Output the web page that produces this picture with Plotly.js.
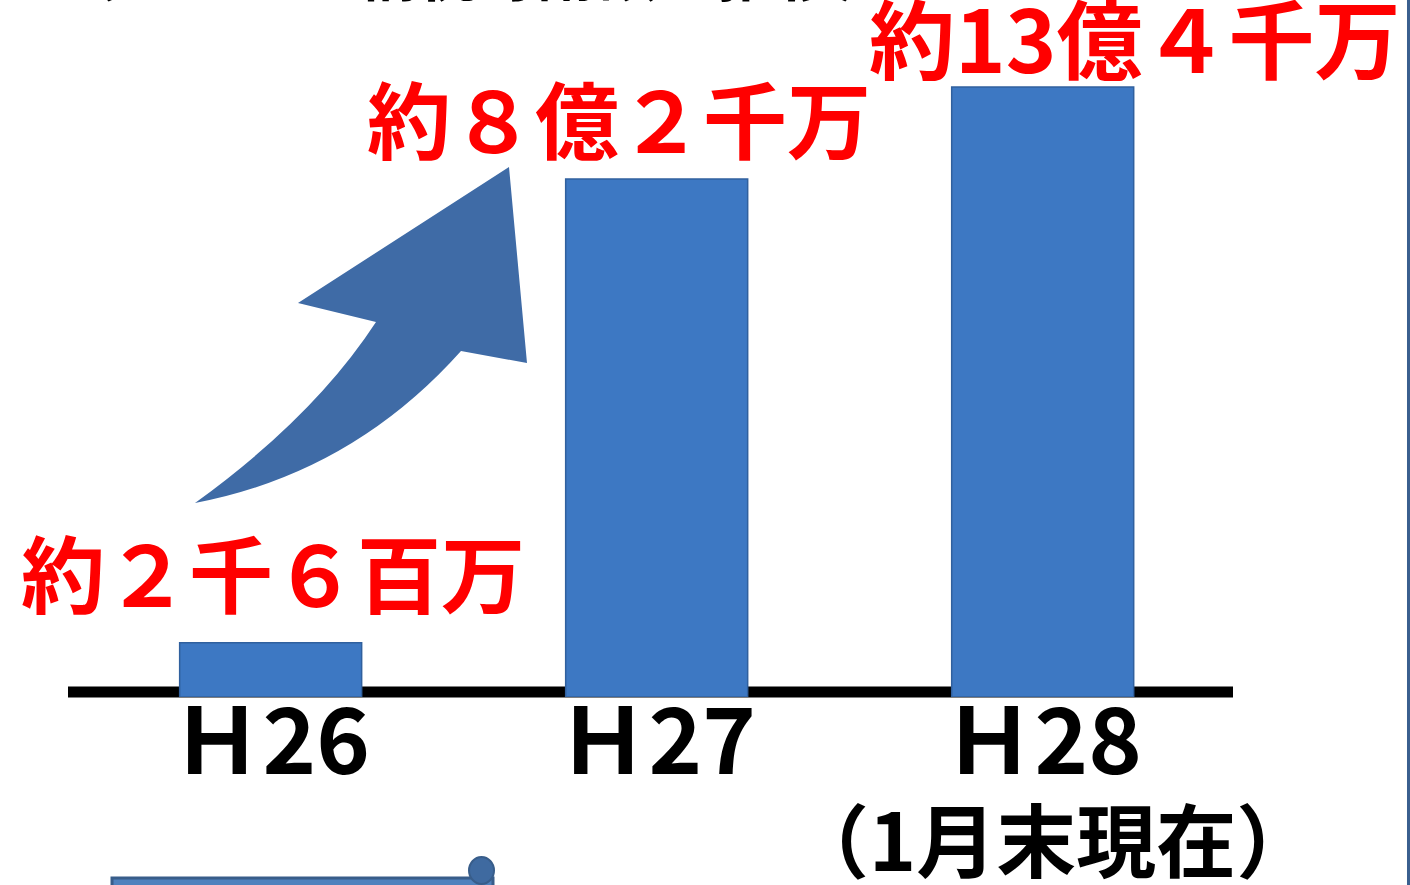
<!DOCTYPE html>
<html>
<head>
<meta charset="utf-8">
<script src="https://cdn.plot.ly/plotly-3.0.1.min.js"></script>
<style>html,body{margin:0;padding:0;background:#fff;}#chart{width:1410px;height:885px;}</style>
</head>
<body>
<div id="chart"></div>
<script>
// Categories (fiscal years)
const categories = ['Ｈ26', 'Ｈ27', 'Ｈ28'];
// Bar heights as drawn in the picture (relative units, H28 = 13.4)
const barHeights = [1.19, 11.38, 13.4];
// Amount labels shown above the bars
const amountLabels = ['約２千６百万', '約８億２千万', '約13億４千万'];
const subLabel = '（1月末現在）';
const titleText = '（ふるさと納税寄附額の推移）';

const W = 1410, H = 885;
const M = {l: 68, r: 177, t: 0, b: 188};
const PW = W - M.l - M.r, PH = H - M.t - M.b;
function px(x) { return ((x - M.l) / PW).toFixed(5); }
function py(y) { return ((PH + M.t - y) / PH).toFixed(5); }
function pt(x, y) { return px(x) + ',' + py(y); }

const jp = '"Noto Sans CJK JP", "Noto Sans", sans-serif';

const arrowPath = 'M' + pt(195, 503) +
  ' Q' + pt(314, 417) + ' ' + pt(376, 322) +
  ' L' + pt(298, 303) + ' L' + pt(509, 167) + ' L' + pt(527, 363) +
  ' L' + pt(461, 351) +
  ' Q' + pt(352, 473) + ' ' + pt(195, 503) + ' Z';

const labelShift = [{x: 2, y: 10}, {x: -38, y: 0}, {x: 92, y: -13}];
const labelSize = [84, 84, 86];

const annotations = amountLabels.map((t, i) => ({
  xref: 'x', yref: 'y', x: categories[i], y: barHeights[i],
  text: t, showarrow: false, xanchor: 'center', yanchor: 'bottom',
  xshift: labelShift[i].x, yshift: labelShift[i].y,
  font: {family: jp, size: labelSize[i], color: '#ff0000', weight: 'bold'}
}));
annotations.push({
  xref: 'x', yref: 'paper', x: categories[2], y: -0.2,
  text: subLabel, showarrow: false, xanchor: 'center', yanchor: 'middle', xshift: 10,
  font: {family: jp, size: 80, color: '#000000', weight: 'bold'}
});
annotations.push({
  xref: 'paper', yref: 'paper', x: px(55), y: 1,
  text: titleText, showarrow: false, xanchor: 'left', yanchor: 'middle', yshift: 31,
  font: {family: jp, size: 60, color: '#000000', weight: 'bold'}
});

const shapes = [
  {type: 'line', xref: 'paper', yref: 'paper', x0: 0, x1: 1, y0: py(692), y1: py(692),
   line: {color: '#000000', width: 11}, layer: 'below'},
  {type: 'path', xref: 'paper', yref: 'paper', path: arrowPath,
   fillcolor: '#3f6ba6', line: {width: 0}, layer: 'above'},
  {type: 'rect', xref: 'paper', yref: 'paper', x0: px(112), x1: px(493), y0: py(878), y1: py(900),
   fillcolor: '#4f81bd', line: {color: '#385d8a', width: 3}},
  {type: 'circle', xref: 'paper', yref: 'paper', x0: px(469), x1: px(494), y0: py(857), y1: py(884),
   fillcolor: '#3f6aa0', line: {color: '#385d8a', width: 2}},
  {type: 'line', xref: 'paper', yref: 'paper', x0: px(1408.5), x1: px(1408.5), y0: py(0), y1: py(885),
   line: {color: '#3a5f8f', width: 3}}
];

const data = [{
  type: 'bar', x: categories, y: barHeights, width: 0.4715,
  marker: {color: '#3d78c3', line: {color: '#30609e', width: 1.5}},
  hoverinfo: 'skip'
}];

const layout = {
  width: W, height: H, margin: M,
  paper_bgcolor: '#ffffff', plot_bgcolor: 'rgba(0,0,0,0)',
  showlegend: false,
  xaxis: {type: 'category', range: [-0.525, 2.493], showgrid: false, zeroline: false,
          showline: false, ticks: '', ticklabelstandoff: -15,
          tickfont: {family: jp, size: 91, color: '#000000', weight: 'bold'}},
  yaxis: {range: [0, 15.31], visible: false, showgrid: false, zeroline: false},
  shapes: shapes,
  annotations: annotations
};

Plotly.newPlot('chart', data, layout, {displayModeBar: false, staticPlot: true});
</script>
</body>
</html>
